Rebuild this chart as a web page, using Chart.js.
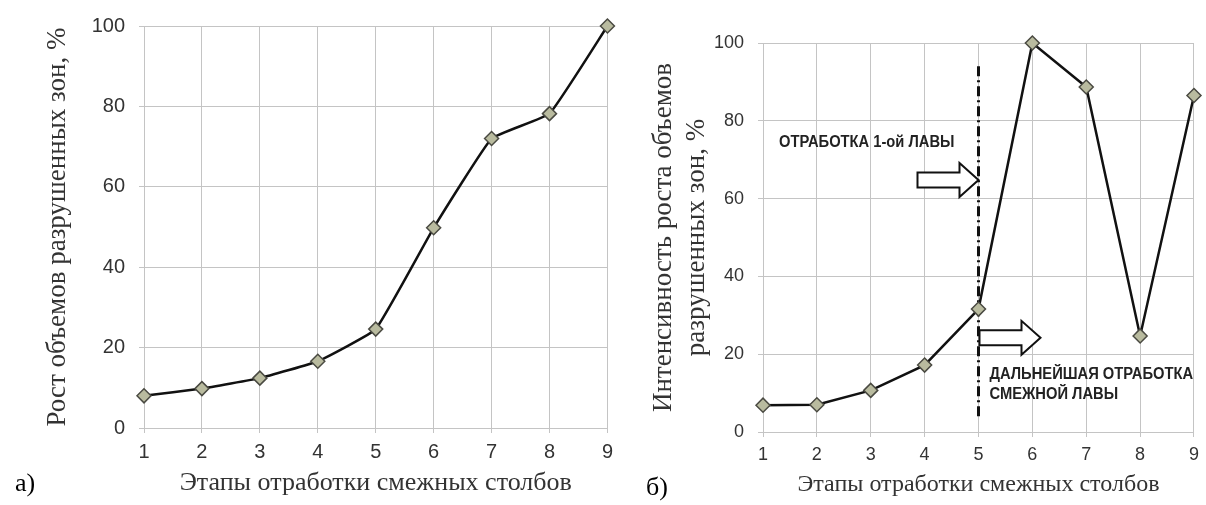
<!DOCTYPE html>
<html lang="ru">
<head>
<meta charset="utf-8">
<title>Этапы отработки смежных столбов</title>
<script src="https://cdn.jsdelivr.net/npm/chart.js@4.4.1/dist/chart.umd.min.js"></script>
<style>
  html, body { margin: 0; padding: 0; background: #fff; }
  #wrap { position: relative; width: 1206px; height: 505px; overflow: hidden; }
  #chartA { position: absolute; left: 0; top: 0; }
  #chartB { position: absolute; left: 620px; top: 0; }
</style>
</head>
<body>
<div id="wrap">
  <canvas id="chartA" width="620" height="505"></canvas>
  <canvas id="chartB" width="586" height="505"></canvas>
</div>
<script>
// stages of mining the adjacent pillars (x axis)
const stages = ['1', '2', '3', '4', '5', '6', '7', '8', '9'];
// а) growth of the volume of destroyed zones, %
const volumeGrowth = [8.0, 9.8, 12.4, 16.6, 24.6, 49.8, 72.0, 78.2, 100];
// б) intensity of that growth, %
const growthIntensity = [6.9, 7.0, 10.7, 17.2, 31.6, 100, 88.7, 24.7, 86.5];
const yTicks = [0, 20, 40, 60, 80, 100];

const xTitle = 'Этапы отработки смежных столбов';
const yTitleA = 'Рост объемов разрушенных зон, %';
const yTitleB = ['Интенсивность роста объемов', 'разрушенных зон, %'];
const noteFirst = 'ОТРАБОТКА 1-ой ЛАВЫ';
const noteNext = ['ДАЛЬНЕЙШАЯ ОТРАБОТКА', 'СМЕЖНОЙ ЛАВЫ'];

const gridColor = '#c4c4c4';
const serif = '"Liberation Serif", "Times New Roman", serif';
const sans = '"Liberation Sans", Arial, sans-serif';

function dataset(values, tension) {
    return {
        data: values,
        clip: false,
        borderColor: '#111',
        borderWidth: 2.5,
        tension: tension,
        pointStyle: 'rectRot',
        pointRadius: 7,
        pointHoverRadius: 7,
        pointBackgroundColor: '#b9bb9f',
        pointBorderColor: '#4a4a42',
        pointBorderWidth: 1.5
    };
}

// s = sizes of one panel
function makeOptions(s) {
    return {
        responsive: false,
        animation: false,
        events: [],
        layout: { padding: { top: s.top, right: s.right, left: 0, bottom: 0 } },
        plugins: { legend: { display: false }, tooltip: { enabled: false } },
        scales: {
            x: {
                offset: false,
                grid: { color: gridColor, lineWidth: 1, tickLength: 5, offset: false },
                border: { color: gridColor },
                ticks: { color: '#333', font: { family: sans, size: s.tickSize }, padding: 7, maxRotation: 0 },
                title: {
                    display: true, text: xTitle, color: '#333',
                    font: { family: serif, size: s.xTitleSize }, padding: { top: 0, bottom: s.xTitlePad }
                },
                afterFit: sc => { sc.height = s.xHeight; }
            },
            y: {
                min: 0, max: 100,
                grid: { color: gridColor, lineWidth: 1, tickLength: 5 },
                border: { color: gridColor },
                ticks: { color: '#333', font: { family: sans, size: s.tickSize }, padding: 14 },
                afterBuildTicks: sc => { sc.ticks = yTicks.map(v => ({ value: v })); },
                title: {
                    display: true, text: s.yTitle, color: '#333',
                    font: { family: serif, size: s.yTitleSize }, padding: { top: s.yTitlePad, bottom: 0 }
                },
                afterFit: sc => { sc.width = s.yWidth; }
            }
        }
    };
}

function panelLetter(text, x, y) {
    return {
        id: 'panelLetter',
        afterDraw(chart) {
            const ctx = chart.ctx;
            ctx.save();
            ctx.fillStyle = '#000';
            ctx.font = '26px ' + serif;
            ctx.textBaseline = 'middle';
            ctx.fillText(text, x, y);
            ctx.restore();
        }
    };
}

function blockArrow(ctx, x0, x1, yc) {
    const shaft = 7.5, head = 17, headLen = 19;
    ctx.beginPath();
    ctx.moveTo(x0, yc - shaft);
    ctx.lineTo(x1 - headLen, yc - shaft);
    ctx.lineTo(x1 - headLen, yc - head);
    ctx.lineTo(x1, yc);
    ctx.lineTo(x1 - headLen, yc + head);
    ctx.lineTo(x1 - headLen, yc + shaft);
    ctx.lineTo(x0, yc + shaft);
    ctx.closePath();
    ctx.fillStyle = '#fff';
    ctx.fill();
    ctx.lineWidth = 2;
    ctx.strokeStyle = '#111';
    ctx.stroke();
}

function squeezedText(ctx, text, x, y, align) {
    const k = 0.92;
    ctx.save();
    ctx.translate(x, y);
    ctx.scale(k, 1);
    ctx.textAlign = align;
    ctx.fillText(text, 0, 0);
    ctx.restore();
}

// boundary between the first longwall and the adjacent one
const boundaryNotes = {
    id: 'boundaryNotes',
    beforeDatasetsDraw(chart) {
        const { ctx, scales: { x, y } } = chart;
        const xl = x.getPixelForValue(stages.indexOf('5'));
        ctx.save();
        ctx.strokeStyle = '#111';
        ctx.lineWidth = 3;
        ctx.setLineDash([10, 4, 2, 4]);
        ctx.beginPath();
        ctx.moveTo(xl, y.getPixelForValue(94));
        ctx.lineTo(xl, y.getPixelForValue(3));
        ctx.stroke();
        ctx.setLineDash([]);

        blockArrow(ctx, xl - 61, xl, y.getPixelForValue(64.8));
        blockArrow(ctx, xl + 1, xl + 62, y.getPixelForValue(24.2));

        ctx.fillStyle = '#222';
        ctx.font = 'bold 16px ' + sans;
        ctx.textBaseline = 'middle';
        squeezedText(ctx, noteFirst, xl - 24, y.getPixelForValue(74.5), 'right');
        squeezedText(ctx, noteNext[0], xl + 11, y.getPixelForValue(14.7), 'left');
        squeezedText(ctx, noteNext[1], xl + 11, y.getPixelForValue(9.6), 'left');
        ctx.restore();
    }
};

new Chart(document.getElementById('chartA'), {
    type: 'line',
    data: { labels: stages, datasets: [dataset(volumeGrowth, 0.1)] },
    options: makeOptions({
        top: 23, right: 12, tickSize: 20, xTitleSize: 26, yTitleSize: 27,
        xHeight: 77, yWidth: 144, xTitlePad: 6, yTitlePad: 42, yTitle: yTitleA
    }),
    plugins: [panelLetter('а)', 15, 484)]
});

new Chart(document.getElementById('chartB'), {
    type: 'line',
    data: { labels: stages, datasets: [dataset(growthIntensity, 0)] },
    options: makeOptions({
        top: 43, right: 11, tickSize: 18, xTitleSize: 24, yTitleSize: 27,
        xHeight: 73, yWidth: 143, xTitlePad: 6, yTitlePad: 28, yTitle: yTitleB
    }),
    plugins: [boundaryNotes, panelLetter('б)', 26, 488)]
});
</script>
</body>
</html>
